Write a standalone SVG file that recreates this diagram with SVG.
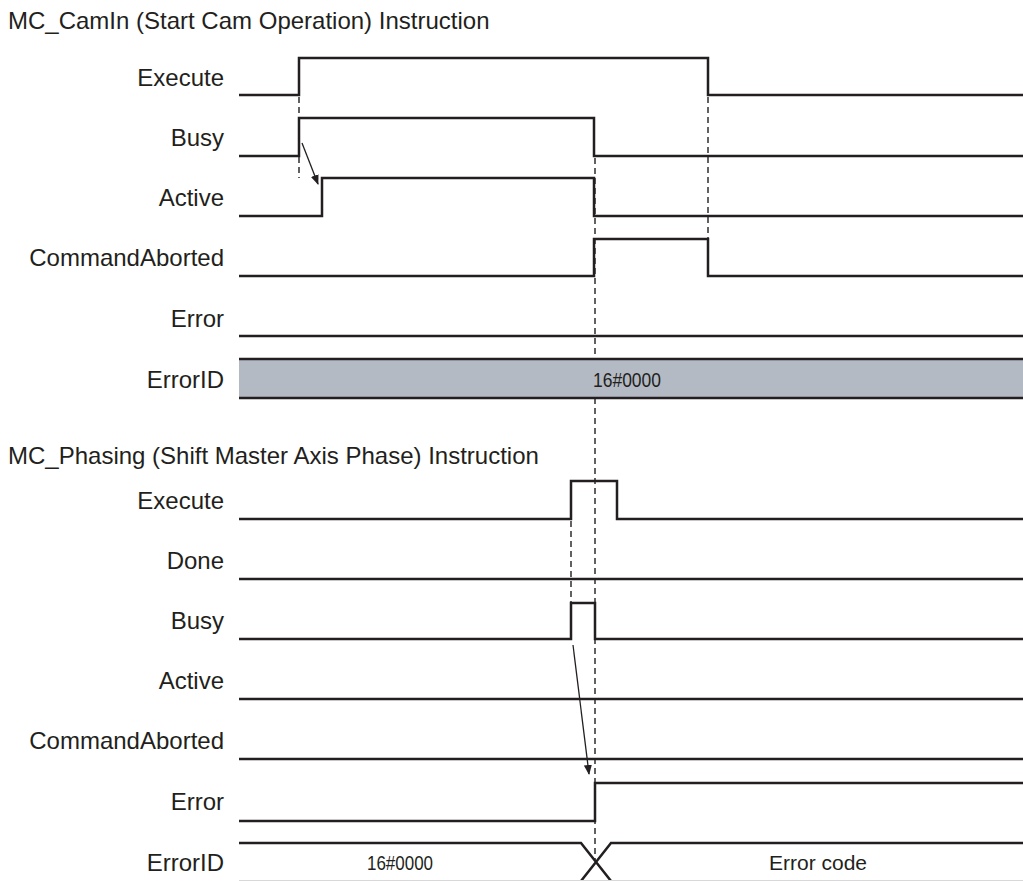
<svg xmlns="http://www.w3.org/2000/svg" width="1023" height="881" viewBox="0 0 1023 881">
<style>
text{font-family:"Liberation Sans",Arial,sans-serif;font-size:24px;fill:#231f20}
.lbl{text-anchor:end;dominant-baseline:central}
.val{text-anchor:middle;dominant-baseline:central;font-size:21px}
.sig{fill:none;stroke:#231f20;stroke-width:2.5;stroke-linejoin:miter}
.dash{fill:none;stroke:#231f20;stroke-width:1.4;stroke-dasharray:6 4}
.arr{fill:none;stroke:#231f20;stroke-width:1.3;marker-end:url(#ah)}
</style>
<defs>
<marker id="ah" markerWidth="10" markerHeight="8" refX="9" refY="4" orient="auto" markerUnits="userSpaceOnUse">
<path d="M0,0 L10,4 L0,8 Z" fill="#231f20"/>
</marker>
</defs>
<rect width="1023" height="881" fill="#fff"/>
<text x="8" y="20" dominant-baseline="central">MC_CamIn (Start Cam Operation) Instruction</text>
<text x="8" y="455" dominant-baseline="central">MC_Phasing (Shift Master Axis Phase) Instruction</text>

<g id="top-execute"><text class="lbl" x="224" y="77">Execute</text><path class="sig" d="M239,95 H299 V58 H708 V95 H1023"/></g>
<g id="top-busy"><text class="lbl" x="224" y="137">Busy</text><path class="sig" d="M239,156 H299 V118 H594 V156 H1023"/></g>
<g id="top-active"><text class="lbl" x="224" y="197">Active</text><path class="sig" d="M239,216 H322 V178 H594 V216 H1023"/></g>
<g id="top-commandaborted"><text class="lbl" x="224" y="257">CommandAborted</text><path class="sig" d="M239,276 H594 V239 H708 V276 H1023"/></g>
<g id="top-error"><text class="lbl" x="224" y="318">Error</text><path class="sig" d="M239,336 H1023"/></g>

<g id="connectors">
<path class="dash" d="M299,97 V178"/>
<path class="dash" d="M708,97 V276"/>
<path class="dash" d="M595,158 V860"/>
<path class="dash" d="M571,521 V603"/>
<path class="arr" d="M302,143 L318,184"/>
<path class="arr" d="M573,645 L589,774"/>
</g>

<g id="top-errorid"><text class="lbl" x="224" y="379">ErrorID</text>
<rect x="239" y="359" width="784" height="39" fill="#b4bac3"/>
<path class="sig" d="M239,359 H1023 M239,398 H1023"/>
<text class="val" x="627" y="379" textLength="68" lengthAdjust="spacingAndGlyphs">16#0000</text></g>

<g id="bot-execute"><text class="lbl" x="224" y="500">Execute</text><path class="sig" d="M239,519 H571 V481 H617 V519 H1023"/></g>
<g id="bot-done"><text class="lbl" x="224" y="560">Done</text><path class="sig" d="M239,579 H1023"/></g>
<g id="bot-busy"><text class="lbl" x="224" y="620">Busy</text><path class="sig" d="M239,639 H571 V603 H595 V639 H1023"/></g>
<g id="bot-active"><text class="lbl" x="224" y="680">Active</text><path class="sig" d="M239,699 H1023"/></g>
<g id="bot-commandaborted"><text class="lbl" x="224" y="740">CommandAborted</text><path class="sig" d="M239,759 H1023"/></g>
<g id="bot-error"><text class="lbl" x="224" y="801">Error</text><path class="sig" d="M239,821 H595 V783 H1023"/></g>
<g id="bot-errorid"><text class="lbl" x="224" y="862">ErrorID</text>
<path class="sig" d="M239,843 H581 L611,881 M1023,843 H611 L581,881"/>
<path d="M239,880.5 H1023" stroke="#d8d8d8" stroke-width="1"/>
<text class="val" x="400" y="862" textLength="66" lengthAdjust="spacingAndGlyphs">16#0000</text>
<text class="val" x="818" y="862">Error code</text></g>
</svg>
